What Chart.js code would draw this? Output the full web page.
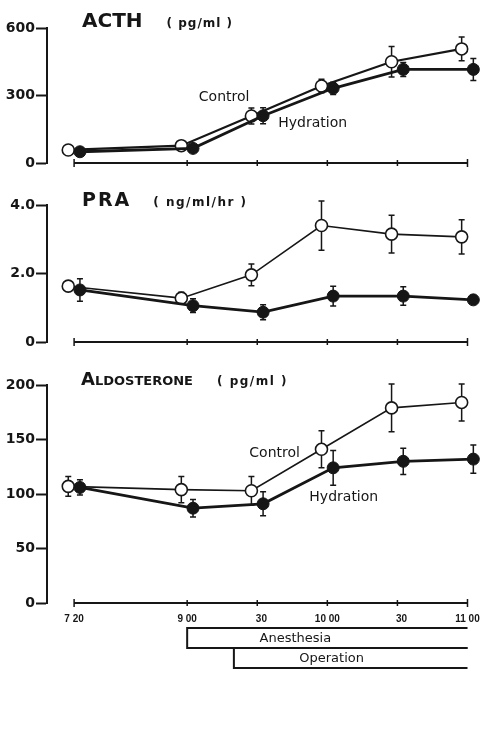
<!DOCTYPE html>
<html>
<head>
<meta charset="utf-8">
<script src="https://cdn.jsdelivr.net/npm/chart.js@4.4.1/dist/chart.umd.min.js"></script>
<style>
  html, body { margin: 0; padding: 0; background: #fff; }
  #wrap { position: relative; width: 480px; height: 745px; }
  #wrap canvas { position: absolute; left: 0; }
</style>
</head>
<body>
<div id="wrap">
  <canvas id="acthChart" width="480" height="180" style="top:0px"></canvas>
  <canvas id="praChart" width="480" height="180" style="top:180px"></canvas>
  <canvas id="aldoChart" width="480" height="385" style="top:360px"></canvas>
</div>
<script>
// sampling times, in minutes after 9:00 (7:20 sits left of the axis break)
const timeLabels = ['7 20', '9 00', '\u2007 30', '10 00', '\u2007 30', '11 00'];
const timePos = [-48.4, 0, 30, 60, 90, 120];
// the two groups are nudged apart so their symbols don't sit on top of each other
const controlShift = -2.5;
const hydrationShift = 2.5;

// ACTH (pg/ml), mean and SE
const acthControl = [58, 77, 209, 342, 450, 507];
const acthControlSE = [6, 6, 36, 30, 68, 53];
const acthHydration = [50, 65, 210, 332, 416, 416];
const acthHydrationSE = [6, 6, 36, 27, 31, 49];

// plasma renin activity (ng/ml/hr)
const praControl = [1.63, 1.28, 1.96, 3.40, 3.15, 3.07];
const praControlSE = [0.1, 0.17, 0.32, 0.72, 0.55, 0.5];
const praHydration = [1.52, 1.06, 0.87, 1.34, 1.34, 1.23];
const praHydrationSE = [0.33, 0.2, 0.22, 0.29, 0.27, 0.08];

// aldosterone (pg/ml)
const aldoControl = [107, 104, 103, 141, 179, 184];
const aldoControlSE = [9, 12, 13, 17, 22, 17];
const aldoHydration = [106, 87, 91, 124, 130, 132];
const aldoHydrationSE = [7, 8, 11, 16, 12, 13];

const acthTicks = [0, 300, 600];
const praTicks = [0, 2, 4];
const aldoTicks = [0, 50, 100, 150, 200];

// anesthesia / operation periods (minutes after 9:00)
const periodNames = ['Anesthesia', 'Operation'];
const periodStart = [0, 20];
const periodEnd = [120, 120];
const periodTextAt = [31, 48];

const ink = '#161616';

function points(vals, shift) {
  return vals.map((v, i) => ({ x: timePos[i] + shift, y: v }));
}

// vertical SE whiskers with small caps, drawn under the symbols
const errorBars = {
  id: 'errorBars',
  beforeDatasetsDraw(chart) {
    const { ctx, scales: { x, y } } = chart;
    ctx.save();
    ctx.strokeStyle = ink;
    ctx.lineWidth = 1.5;
    chart.data.datasets.forEach(ds => {
      if (!ds.se) return;
      ds.data.forEach((p, i) => {
        const px = x.getPixelForValue(p.x);
        const top = y.getPixelForValue(p.y + ds.se[i]);
        const bot = y.getPixelForValue(p.y - ds.se[i]);
        ctx.beginPath();
        ctx.moveTo(px, top); ctx.lineTo(px, bot);
        ctx.moveTo(px - 3, top); ctx.lineTo(px + 3, top);
        ctx.moveTo(px - 3, bot); ctx.lineTo(px + 3, bot);
        ctx.stroke();
      });
    });
    ctx.restore();
  }
};

// time line, panel titles, group names, anesthesia/operation bars
const decor = {
  id: 'decor',
  beforeDatasetsDraw(chart) {
    const { ctx, scales: { x, y } } = chart;
    const y0 = y.getPixelForValue(0);
    const first = x.getPixelForValue(timePos[0]);
    const last = x.getPixelForValue(timePos[timePos.length - 1]);
    ctx.save();
    ctx.strokeStyle = ink;
    ctx.lineWidth = 2;
    ctx.beginPath();
    ctx.moveTo(first, y0);
    ctx.lineTo(last, y0);
    ctx.stroke();
    ctx.lineWidth = 1.5;
    timePos.forEach((t, i) => {
      const px = x.getPixelForValue(t);
      const h = (i === 0 || i === timePos.length - 1) ? 4 : 3;
      ctx.beginPath();
      ctx.moveTo(px, y0 - h);
      ctx.lineTo(px, y0 + h);
      ctx.stroke();
    });
    ctx.restore();
  },
  afterDraw(chart, args, opts) {
    const { ctx, chartArea, scales: { x, y } } = chart;
    ctx.save();
    ctx.fillStyle = ink;
    ctx.textBaseline = 'alphabetic';
    ctx.textAlign = 'left';
    let tx = opts.titleX;
    const ty = chartArea.top + opts.titleDy;
    (opts.title || []).forEach(seg => {
      tx += seg.gap || 0;
      ctx.font = seg.font;
      ctx.letterSpacing = (seg.spacing || 0) + 'px';
      ctx.fillText(seg.text, tx, ty);
      tx += ctx.measureText(seg.text).width;
    });
    ctx.letterSpacing = '0px';

    ctx.font = '14px "DejaVu Sans"';
    ctx.textBaseline = 'middle';
    (opts.notes || []).forEach(n => {
      ctx.fillText(n.text, x.getPixelForValue(n.x), y.getPixelForValue(n.y));
    });

    if (opts.periods) {
      const top = chartArea.bottom + 25;
      const rowH = 20;
      ctx.strokeStyle = ink;
      ctx.lineWidth = 2;
      ctx.font = '13px "DejaVu Sans"';
      periodNames.forEach((name, i) => {
        const a = x.getPixelForValue(periodStart[i]);
        const b = x.getPixelForValue(periodEnd[i]);
        const t = top + i * rowH;
        ctx.beginPath();
        ctx.moveTo(b, t);
        ctx.lineTo(a, t);
        ctx.lineTo(a, t + rowH);
        ctx.lineTo(b, t + rowH);
        ctx.stroke();
        ctx.fillText(name, x.getPixelForValue(periodTextAt[i]), t + rowH / 2 + 1);
      });
    }
    ctx.restore();
  }
};

function makePanel(id, cfg) {
  const datasets = [
    {
      label: 'Hydration',
      data: points(cfg.hydration, hydrationShift),
      se: cfg.hydrationSE,
      showLine: true,
      borderColor: ink,
      borderWidth: cfg.hydrationLine,
      pointRadius: 6,
      pointBackgroundColor: ink,
      pointBorderColor: ink,
      pointBorderWidth: 1,
      clip: false,
      order: 0
    },
    {
      label: 'Control',
      data: points(cfg.control, controlShift),
      se: cfg.controlSE,
      showLine: true,
      borderColor: ink,
      borderWidth: cfg.controlLine,
      pointRadius: 6,
      pointBackgroundColor: '#fff',
      pointBorderColor: ink,
      pointBorderWidth: 1.6,
      clip: false,
      order: 1
    }
  ];

  return new Chart(document.getElementById(id), {
    type: 'scatter',
    data: { datasets },
    options: {
      responsive: false,
      animation: false,
      events: [],
      layout: { padding: cfg.padding },
      scales: {
        x: {
          type: 'linear',
          min: -60,
          max: 122.1,
          display: cfg.showTime,
          afterBuildTicks: s => { s.ticks = timePos.map(v => ({ value: v })); },
          afterFit: s => { s.height = cfg.timeAxisHeight || s.height; s.paddingLeft = 0; s.paddingRight = 0; },
          border: { display: false },
          grid: { display: false, drawTicks: false },
          ticks: {
            color: ink,
            padding: 10,
            maxRotation: 0,
            autoSkip: false,
            font: { family: 'Liberation Sans', weight: 'bold', size: 10 },
            callback: (v, i) => timeLabels[i]
          }
        },
        y: {
          min: cfg.ticks[0],
          max: cfg.ticks[cfg.ticks.length - 1],
          afterBuildTicks: s => { s.ticks = cfg.ticks.map(v => ({ value: v })); },
          afterFit: s => { s.width = 47; },
          border: { display: true, color: ink, width: 2 },
          grid: { display: true, drawOnChartArea: false, drawTicks: true, tickLength: 11, tickWidth: 2, tickColor: ink },
          ticks: {
            color: ink,
            padding: 1,
            font: { family: 'DejaVu Sans', weight: 'bold', size: 14 },
            callback: cfg.tickFormat
          }
        }
      },
      plugins: {
        legend: { display: false },
        tooltip: { enabled: false },
        decor: cfg.decor
      }
    },
    plugins: [decor, errorBars]
  });
}

makePanel('acthChart', {
  control: acthControl, controlSE: acthControlSE,
  hydration: acthHydration, hydrationSE: acthHydrationSE,
  controlLine: 2.2, hydrationLine: 2.8,
  ticks: acthTicks,
  tickFormat: v => String(v),
  showTime: false,
  padding: { top: 28, bottom: 17, left: 0, right: 2 },
  decor: {
    titleX: 82, titleDy: -1,
    title: [
      { text: 'ACTH', font: 'bold 20px "DejaVu Sans"' },
      { text: '( pg/ml )', font: 'bold 12px "DejaVu Sans"', gap: 24, spacing: 1 }
    ],
    notes: [
      { text: 'Control', x: 5, y: 293 },
      { text: 'Hydration', x: 39, y: 178 }
    ]
  }
});

makePanel('praChart', {
  control: praControl, controlSE: praControlSE,
  hydration: praHydration, hydrationSE: praHydrationSE,
  controlLine: 1.6, hydrationLine: 2.8,
  ticks: praTicks,
  tickFormat: v => v === 0 ? '0' : v.toFixed(1),
  showTime: false,
  padding: { top: 25, bottom: 18, left: 0, right: 2 },
  decor: {
    titleX: 82, titleDy: 1,
    title: [
      { text: 'PRA', font: 'bold 19px "DejaVu Sans"', spacing: 2 },
      { text: '( ng/ml/hr )', font: 'bold 12px "DejaVu Sans"', gap: 22, spacing: 1.5 }
    ]
  }
});

makePanel('aldoChart', {
  control: aldoControl, controlSE: aldoControlSE,
  hydration: aldoHydration, hydrationSE: aldoHydrationSE,
  controlLine: 1.6, hydrationLine: 2.8,
  ticks: aldoTicks,
  tickFormat: v => String(v),
  showTime: true,
  timeAxisHeight: 142,
  padding: { top: 25, bottom: 0, left: 0, right: 2 },
  decor: {
    titleX: 81, titleDy: 0,
    title: [
      { text: 'A', font: 'bold 18px "DejaVu Sans"' },
      { text: 'LDOSTERONE', font: 'bold 13px "DejaVu Sans"' },
      { text: '( pg/ml )', font: 'bold 12px "DejaVu Sans"', gap: 24, spacing: 1.5 }
    ],
    notes: [
      { text: 'Control', x: 26.6, y: 137 },
      { text: 'Hydration', x: 52.3, y: 97 }
    ],
    periods: true
  }
});
</script>
</body>
</html>
